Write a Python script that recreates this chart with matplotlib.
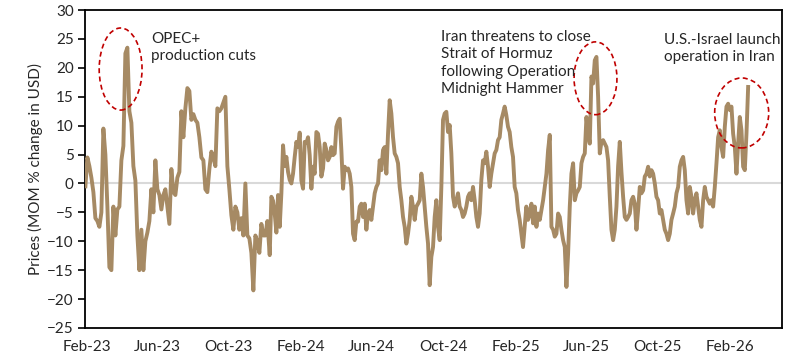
import numpy as np
import pandas as pd
import matplotlib
matplotlib.use("Agg")
import matplotlib.pyplot as plt
import matplotlib.dates as mdates
from matplotlib.patches import Ellipse

# MOM % change in USD in three stretches
mom_2023 = [-0.5, 4.5, 3, 1, -1.5, -6, -6.5, -7.5, -5, 9.5, 5, -4, -14.5, -15, -4, -9,
            -4.5, -4, 4, 6.5, 22.5, 23.5, 12.5, 10.5, 3, 0.5, -9, -15, -8, -15, -10, -8.5,
            -6.5, -1, -5, 4, -1, -2, -4.5, -2, -1, -4, -7, 2.5, -1.5, -2, 1, 2,
            12.5, 8, 13, 16.5, 16, 11, 12, 11, 10.5, 8, 4.5, 4, -1, -1.5, 2.5, 5.5,
            4.5, 3, 13, 12.5, 13, 14, 15, 3, -1, -5.5, -8, -4, -5, -8, -6, -9,
            0, -9, -9.5, -12, -18.5, -9, -10, -12, -7, -9, -9, -6.5]
mom_2024 = [-12.4, -2.3, -3, -5.2, -8.5, -2, -7.5, -1.7, 6.6, 3, 4.6, 2, 0.6, 0, 1.7, 4.6,
            7.2, 6.3, 8.8, 0.5, -0.9, 7.2, 7, 8, 4.9, -0.9, 2.9, 1.7, 8.9, 8.6, 6.3, 1.2,
            2.6, 6.9, 5.8, 4, 4.6, 6.3, 4.9, 5.2, 9.8, 10.7, 11.2, 5.8, -0.9, 2.9, 2.3, 2.6,
            1.7, -0.6, -8.7, -9.8, -6.6, -6.6, -4, -3.5, -5.8, -3.5, -8, -5.2, -4.6, -6.3, -4, -1.7,
            -0.6, 0, 4, 2.3, 5.8, 6.3, 1.7, 8.6, 14.4, 12.1, 8, 5.2, 4.6, 3.5, -0.6, -2.9,
            -5.8, -7.5, -10.4, -8.7, -6.3, -2.3, -4, -6.3, -4, -3.5, -2.9, 1.7, -0.6, -4, -7.5, -10.4,
            -17.6, -12.7, -11, -5.8, -2.9, -7.5, -9.8, -0.6, 11, 12.1, 12.4, 8.9, 10.1, 5.2, -2.3, -4,
            -2.9, -1.7, -4, -4.6, -5.8, -5.2, -4, -2.3, -1.7, -2.9, -0.6, -2.9, -5.8, -7.5, -5.2, 0.6,
            4, 3.5, 5.5, 2.9, -0.6, 1.7, 3.5, 5.2, 5.8, 7.5, 8, 11, 12.1, 13.3, 11.8, 9.8,
            8.9, 6.3, 4.6, -0.6, -1.7, -4.6, -6.3, -8.7, -11, -7.5, -4, -6.3]
mom_2025 = [-5.2, -3.5, -6.9, -4, -7.5, -5.2, -6.3, -4.6, -2.9, -0.6, 1.7, 5.8, 8.4, -7.5, -8, -9.2,
            -8.7, -5.2, -5.8, -8, -9.8, -11, -17.9, -12.1, -4, 1.7, 3.5, -2.9, -1.7, -1.2, -0.6, 3.5,
            4.6, 5.2, 11.5, 8.6, 6.9, 18.5, 17.3, 21.3, 21.9, 15, 5.2, 7.2, 7.5, 6.9, 6.3, 4,
            -2.3, -8, -9.8, -8, -4, 3, 7.2, 2, -2.3, -5.8, -6.3, -5.8, -5.2, -2.9, -2.3, -3.5,
            -8, -4.6, -0.6, -1.7, -1.2, 1.2, 1.7, 2.9, 1.2, 2.3, 1.7, 0, -2.3, -2.9, -5.2, -4.6,
            -6.3, -8, -8.7, -9.8, -8.7, -6.3, -5.2, -4, -1.7, -0.6, 2.9, 4, 4.6, 2.3, -2.9, -5.2,
            -0.6, -2.3, -5.2, -2.9, -1.7, -4, -6.3, -7.5, -2.9, -0.6, -2.3, -2.9, -3.5, -2.9, -4, -0.6,
            3.5, 8, 9.2, 6.3, 4.6, 9.8, 13.3, 13.8, 12.7, 13.3, 8.6, 6.3, 1.7, 6.9, 11.5, 9.2,
            2.9, 2.3, 8.6, 16.7]

dates = np.concatenate([
    pd.date_range("2023-01-30", "2023-12-06", periods=len(mom_2023)),
    pd.date_range("2023-12-10", "2025-02-22", periods=len(mom_2024)),
    pd.date_range("2025-02-25", "2026-03-04", periods=len(mom_2025)),
])
mom = mom_2023 + mom_2024 + mom_2025

tick_dates = pd.date_range("2023-02-01", "2026-02-01", freq="4MS")
tick_labels = [d.strftime("%b-%y") for d in tick_dates]

plt.rcParams["font.family"] = ["Lato", "DejaVu Sans"]

fig = plt.figure(figsize=(8, 3.6), dpi=100)
ax = fig.add_axes([0.106, 0.089, 0.871, 0.883])

ax.axhline(0, color="#d9d9d9", lw=1.5, zorder=1)
ax.plot(dates, mom, color="#a68a64", lw=2.8, zorder=3, solid_joinstyle="round")

ax.set_xlim(pd.Timestamp("2023-01-29"), pd.Timestamp("2026-04-30"))
ax.set_ylim(-25, 30)
ax.set_yticks(range(-25, 31, 5))
ax.set_xticks(tick_dates)
ax.set_xticklabels(tick_labels)
ax.tick_params(axis="x", length=0, pad=9, labelsize=11, colors="#262626")
ax.tick_params(axis="y", length=5, width=1.2, pad=3, labelsize=11, colors="#262626")
ax.tick_params(axis="y", color="black")
for s in ax.spines.values():
    s.set_color("black")
    s.set_linewidth(1.3)
ax.set_ylabel("Prices (MOM % change in USD)", fontsize=11, color="#262626", labelpad=3)

# dashed circles around the events
def ring(center, y, days, h):
    cx = mdates.date2num(pd.Timestamp(center))
    e = Ellipse((cx, y), days, h, fill=False, edgecolor="#c00000", lw=1.2,
                ls=(0, (3, 2)), zorder=4)
    ax.add_patch(e)

ring("2023-03-31", 19.8, 73, 14.2)
ring("2025-06-17", 18.2, 73, 12.6)
ring("2026-02-21", 12.2, 92, 12.1)

fig.text(151 / 800, 1 - 32 / 360, "OPEC+\nproduction cuts", fontsize=11,
         va="top", ha="left", color="#262626", linespacing=1.3)
fig.text(441 / 800, 1 - 30 / 360,
         "Iran threatens to close\nStrait of Hormuz\nfollowing Operation\nMidnight Hammer",
         fontsize=11, va="top", ha="left", color="#262626", linespacing=1.3)
fig.text(664 / 800, 1 - 33 / 360, "U.S.-Israel launch\noperation in Iran", fontsize=11,
         va="top", ha="left", color="#262626", linespacing=1.3)

fig.savefig("out.png", dpi=100)
